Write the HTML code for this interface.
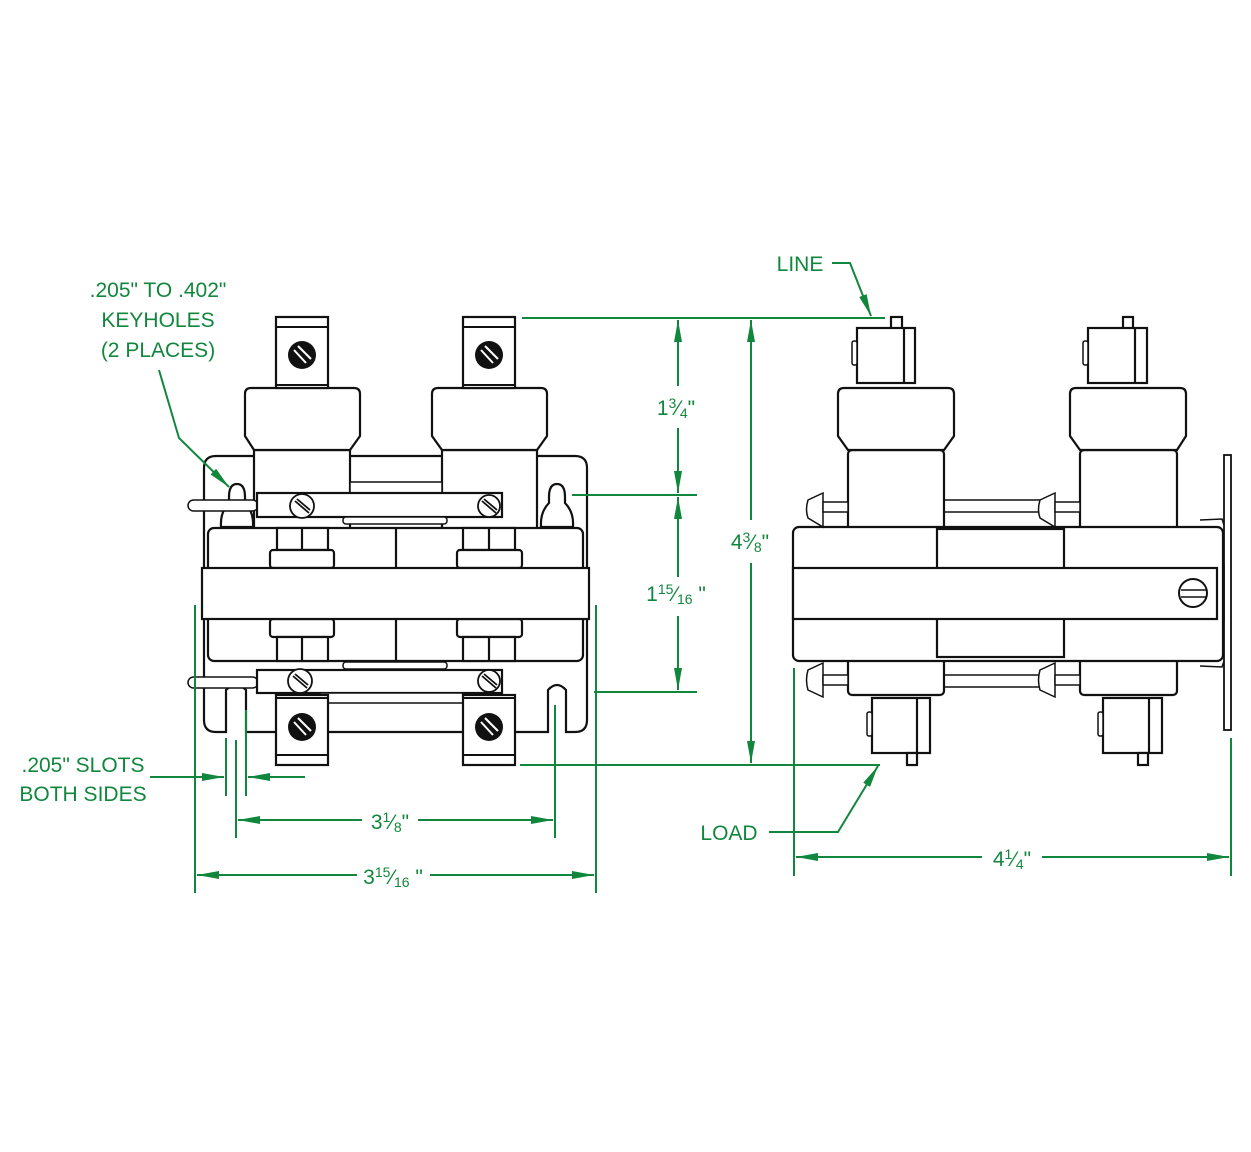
<!DOCTYPE html>
<html><head><meta charset="utf-8"><style>
html,body{margin:0;padding:0;background:#fff;}
svg{display:block;}
text{font-family:"Liberation Sans",sans-serif;fill:#11873d;font-size:21px;}
</style></head><body>
<svg width="1251" height="1152" viewBox="0 0 1251 1152" xmlns="http://www.w3.org/2000/svg">
<defs>
<marker id="a" viewBox="0 0 22 8" refX="22" refY="4" markerWidth="22" markerHeight="8" markerUnits="userSpaceOnUse" orient="auto-start-reverse">
<path d="M0,0 L22,4 L0,8 z" fill="#11873d"/></marker>
</defs>

<!-- ===== LEFT VIEW ===== -->
<g fill="#fff" stroke="#111" stroke-width="2.2">
 <path d="M216,456 H575 Q587,456 587,468 V720 Q587,732 575,732 H566 V690 Q557,680 548,690 V732 H246 V690 Q236,680 226,690 V732 H216 Q204,732 204,720 V468 Q204,456 216,456 Z"/>
 <path d="M229,497 Q229,484 237,484 Q245,484 245,497 V503 Q254,512 253,527 H221 Q220,512 229,503 Z"/>
 <path d="M549,497 Q549,484 557,484 Q565,484 565,497 V503 Q574,512 573,527 H541 Q540,512 549,503 Z"/>
 <rect x="254" y="450" width="96" height="80"/>
 <rect x="442" y="450" width="95" height="80"/>
 <rect x="350" y="482" width="92" height="40" stroke-width="1.5"/>
 <path d="M251,388 H354 Q360,388 360,394 V436 L350,450 H254 L245,436 V394 Q245,388 251,388 Z"/>
 <path d="M438,388 H541 Q547,388 547,394 V436 L537,450 H442 L432,436 V394 Q432,388 438,388 Z"/>
 <rect x="276" y="317" width="52" height="71"/>
 <rect x="463" y="317" width="52" height="71"/>
 <rect x="208" y="528" width="375" height="133" rx="6"/>
 <line x1="396" y1="528" x2="396" y2="661"/>
 <rect x="277" y="528" width="51" height="22"/><line x1="302" y1="528" x2="302" y2="550"/>
 <rect x="270" y="550" width="64" height="18" rx="3"/>
 <rect x="463" y="528" width="52" height="22"/><line x1="489" y1="528" x2="489" y2="550"/>
 <rect x="457" y="550" width="65" height="18" rx="3"/>
 <rect x="270" y="619" width="64" height="18" rx="3"/>
 <rect x="277" y="637" width="51" height="24"/><line x1="302" y1="637" x2="302" y2="661"/>
 <rect x="457" y="619" width="65" height="18" rx="3"/>
 <rect x="463" y="637" width="52" height="24"/><line x1="489" y1="637" x2="489" y2="661"/>
 <rect x="202" y="568" width="387" height="51"/>
 <rect x="188" y="500" width="70" height="11" rx="5.5" stroke-width="1.5"/>
 <rect x="257" y="493" width="245" height="24"/>
 <rect x="343" y="517" width="104" height="7" rx="3" stroke-width="1.5"/>
 <rect x="188" y="677" width="70" height="11" rx="5.5" stroke-width="1.5"/>
 <rect x="343" y="662" width="104" height="7" rx="3" stroke-width="1.5"/>
 <rect x="257" y="670" width="245" height="23"/>
 <rect x="320" y="693" width="143" height="10" stroke-width="1.5"/>
 <rect x="276" y="695" width="52" height="70"/>
 <rect x="463" y="695" width="52" height="70"/>
</g>
<g stroke="#111" stroke-width="2">
 <line x1="276" y1="327" x2="328" y2="327"/><line x1="276" y1="385" x2="328" y2="385"/>
 <line x1="463" y1="327" x2="515" y2="327"/><line x1="463" y1="385" x2="515" y2="385"/>
 <line x1="276" y1="698" x2="328" y2="698"/><line x1="276" y1="755" x2="328" y2="755"/>
 <line x1="463" y1="698" x2="515" y2="698"/><line x1="463" y1="755" x2="515" y2="755"/>
</g>
<g stroke="#fff" stroke-width="2">
 <circle cx="302" cy="355" r="14" fill="#111" stroke="none"/><line x1="294" y1="350" x2="306" y2="363"/><line x1="298" y1="346" x2="311" y2="359"/>
 <circle cx="489" cy="355" r="14" fill="#111" stroke="none"/><line x1="481" y1="350" x2="493" y2="363"/><line x1="485" y1="346" x2="498" y2="359"/>
 <circle cx="302" cy="727" r="14" fill="#111" stroke="none"/><line x1="294" y1="722" x2="306" y2="735"/><line x1="298" y1="718" x2="311" y2="731"/>
 <circle cx="489" cy="727" r="14" fill="#111" stroke="none"/><line x1="481" y1="722" x2="493" y2="735"/><line x1="485" y1="718" x2="498" y2="731"/>
</g>
<g fill="#fff" stroke="#111" stroke-width="1.8">
 <circle cx="302" cy="506" r="12"/><line x1="295" y1="501" x2="309" y2="513"/><line x1="297" y1="499" x2="310" y2="510"/>
 <circle cx="489" cy="506" r="11"/><line x1="482" y1="501" x2="496" y2="513"/><line x1="484" y1="499" x2="497" y2="510"/>
 <circle cx="300" cy="681" r="12"/><line x1="293" y1="676" x2="307" y2="688"/><line x1="295" y1="674" x2="308" y2="685"/>
 <circle cx="489" cy="681" r="11"/><line x1="482" y1="676" x2="496" y2="688"/><line x1="484" y1="674" x2="497" y2="685"/>
</g>

<!-- ===== RIGHT VIEW ===== -->
<g fill="#fff" stroke="#111" stroke-width="2.2">
 <rect x="1224" y="455" width="7" height="275" stroke-width="1.8"/>
 <rect x="1217" y="565" width="7" height="57" stroke-width="1.5"/>
 <rect x="944" y="500" width="104" height="12" stroke-width="1.5"/>
 <rect x="944" y="675" width="104" height="12" stroke-width="1.5"/>
 <rect x="848" y="450" width="96" height="80" rx="4"/>
 <rect x="1080" y="450" width="97" height="80" rx="4"/>
 <rect x="848" y="658" width="96" height="37" rx="4"/>
 <rect x="1080" y="658" width="97" height="37" rx="4"/>
 <path d="M844,388 H948 Q954,388 954,394 V436 L944,450 H848 L838,436 V394 Q838,388 844,388 Z"/>
 <path d="M1076,388 H1180 Q1186,388 1186,394 V436 L1177,450 H1080 L1070,436 V394 Q1070,388 1076,388 Z"/>
 <rect x="793" y="527" width="430" height="134" rx="6"/>
 <rect x="937" y="529" width="127" height="128"/>
 <rect x="793" y="568" width="424" height="51"/>
 <rect x="891" y="317" width="11" height="12"/>
 <rect x="857" y="328" width="58" height="55"/><line x1="904" y1="328" x2="904" y2="383"/>
 <rect x="1123" y="317" width="10" height="12"/>
 <rect x="1088" y="328" width="59" height="55"/><line x1="1135" y1="328" x2="1135" y2="383"/>
 <rect x="872" y="698" width="58" height="55"/><line x1="917" y1="698" x2="917" y2="753"/>
 <rect x="907" y="753" width="10" height="12"/>
 <rect x="1103" y="698" width="59" height="55"/><line x1="1149" y1="698" x2="1149" y2="753"/>
 <rect x="1138" y="753" width="10" height="12"/>
</g>
<g fill="#fff" stroke="#111" stroke-width="1.5">
 <rect x="852" y="341" width="5" height="24" rx="2"/><rect x="1083" y="341" width="5" height="24" rx="2"/>
 <rect x="867" y="712" width="5" height="24" rx="2"/><rect x="1098" y="712" width="5" height="24" rx="2"/>
 <path d="M823,493 V527 L808,518 Q805,510 808,500 Z"/><rect x="823" y="502" width="25" height="10"/>
 <path d="M1055,493 V527 L1040,518 Q1037,510 1040,500 Z"/><rect x="1055" y="502" width="25" height="10"/>
 <path d="M823,663 V697 L808,690 Q805,680 808,670 Z"/><rect x="823" y="675" width="25" height="10"/>
 <path d="M1055,663 V697 L1040,690 Q1037,680 1040,670 Z"/><rect x="1055" y="675" width="25" height="10"/>
 <circle cx="1193" cy="593" r="14" stroke-width="2"/>
 <line x1="1181" y1="590" x2="1207" y2="590"/><line x1="1181" y1="597" x2="1207" y2="597"/>
 <path d="M1200,520 L1222,519 L1224,525" fill="none"/>
 <path d="M1200,666 L1222,667 L1224,661" fill="none"/>
</g>

<!-- ===== DIMENSIONS ===== -->
<g stroke="#11873d" stroke-width="2" fill="none">
 <line x1="522" y1="318" x2="885" y2="318"/>
 <line x1="520" y1="765" x2="880" y2="765"/>
 <line x1="572" y1="495" x2="697" y2="495"/>
 <line x1="594" y1="692" x2="697" y2="692"/>
 <line x1="678" y1="386" x2="678" y2="320" marker-end="url(#a)"/>
 <line x1="678" y1="428" x2="678" y2="493" marker-end="url(#a)"/>
 <line x1="678" y1="577" x2="678" y2="497" marker-end="url(#a)"/>
 <line x1="678" y1="616" x2="678" y2="690" marker-end="url(#a)"/>
 <line x1="751" y1="520" x2="751" y2="320" marker-end="url(#a)"/>
 <line x1="751" y1="563" x2="751" y2="763" marker-end="url(#a)"/>
 <line x1="226" y1="738" x2="226" y2="796"/>
 <line x1="246" y1="710" x2="246" y2="796"/>
 <line x1="150" y1="777" x2="224" y2="777" marker-end="url(#a)"/>
 <line x1="305" y1="777" x2="248" y2="777" marker-end="url(#a)"/>
 <line x1="236" y1="740" x2="236" y2="838"/>
 <line x1="555" y1="705" x2="555" y2="838"/>
 <line x1="362" y1="820" x2="238" y2="820" marker-end="url(#a)"/>
 <line x1="418" y1="820" x2="553" y2="820" marker-end="url(#a)"/>
 <line x1="195" y1="605" x2="195" y2="893"/>
 <line x1="596" y1="605" x2="596" y2="893"/>
 <line x1="357" y1="875" x2="197" y2="875" marker-end="url(#a)"/>
 <line x1="430" y1="875" x2="594" y2="875" marker-end="url(#a)"/>
 <line x1="794" y1="668" x2="794" y2="876"/>
 <line x1="1231" y1="738" x2="1231" y2="876"/>
 <line x1="982" y1="857" x2="796" y2="857" marker-end="url(#a)"/>
 <line x1="1042" y1="857" x2="1229" y2="857" marker-end="url(#a)"/>
 <polyline points="832,263 850,263 871,316" marker-end="url(#a)"/>
 <polyline points="769,832 838,832 878,766" marker-end="url(#a)"/>
 <polyline points="159,370 179,438 229,487" marker-end="url(#a)"/>
</g>

<g>
 <text x="158" y="297" text-anchor="middle">.205" TO .402"</text>
 <text x="158" y="327" text-anchor="middle">KEYHOLES</text>
 <text x="158" y="357" text-anchor="middle">(2 PLACES)</text>
 <text x="83" y="772" text-anchor="middle">.205" SLOTS</text>
 <text x="83" y="801" text-anchor="middle">BOTH SIDES</text>
 <text x="800" y="271" text-anchor="middle">LINE</text>
 <text x="729" y="840" text-anchor="middle">LOAD</text>
 <text x="676" y="415" text-anchor="middle">1<tspan font-size="14" dy="-7">3</tspan><tspan dy="7">⁄</tspan><tspan font-size="14" dy="3">4</tspan><tspan dy="-3">"</tspan></text>
 <text x="676" y="601" text-anchor="middle">1<tspan font-size="14" dy="-7">15</tspan><tspan dy="7">⁄</tspan><tspan font-size="14" dy="3">16</tspan><tspan dy="-3"> "</tspan></text>
 <text x="750" y="549" text-anchor="middle">4<tspan font-size="14" dy="-7">3</tspan><tspan dy="7">⁄</tspan><tspan font-size="14" dy="3">8</tspan><tspan dy="-3">"</tspan></text>
 <text x="390" y="829" text-anchor="middle">3<tspan font-size="14" dy="-7">1</tspan><tspan dy="7">⁄</tspan><tspan font-size="14" dy="3">8</tspan><tspan dy="-3">"</tspan></text>
 <text x="393" y="884" text-anchor="middle">3<tspan font-size="14" dy="-7">15</tspan><tspan dy="7">⁄</tspan><tspan font-size="14" dy="3">16</tspan><tspan dy="-3"> "</tspan></text>
 <text x="1012" y="866" text-anchor="middle">4<tspan font-size="14" dy="-7">1</tspan><tspan dy="7">⁄</tspan><tspan font-size="14" dy="3">4</tspan><tspan dy="-3">"</tspan></text>
</g>
</svg>
</body></html>
